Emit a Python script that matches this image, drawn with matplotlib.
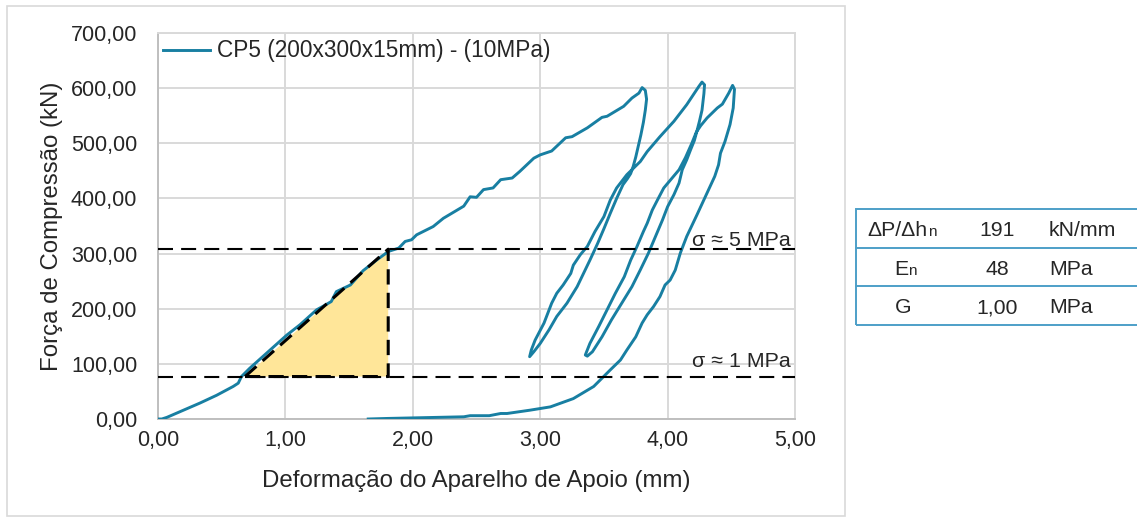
import matplotlib
matplotlib.use("Agg")
import matplotlib.pyplot as plt
from matplotlib.ticker import FuncFormatter, MultipleLocator
from matplotlib.patches import Rectangle, Polygon
from matplotlib.lines import Line2D

plt.rcParams['font.family'] = ['Liberation Sans', 'DejaVu Sans']

# ---- test record CP5: deformation (mm) vs compressive force (kN) ----
load_x = [0.00, 0.03, 0.07, 0.13, 0.20, 0.33, 0.46, 0.59, 0.63, 0.655, 0.72, 0.85, 0.98,
          1.01, 1.115, 1.245, 1.30, 1.36, 1.40, 1.51, 1.61, 1.72, 1.81, 1.89, 1.94, 1.99,
          2.03, 2.16, 2.24, 2.40, 2.45, 2.50, 2.555, 2.63, 2.69, 2.78, 2.84, 2.95, 3.00,
          3.09, 3.20, 3.25, 3.37, 3.485, 3.525, 3.655, 3.72, 3.775, 3.80, 3.825, 3.835]
load_y = [0, 0, 3, 9, 16, 29, 43, 59, 65, 77, 92, 119, 146,
          152, 171, 198, 205, 213, 231, 243, 269, 289, 304, 310, 322, 325,
          334, 349, 364, 386, 403, 402, 416, 419, 434, 437, 449, 473, 479,
          486, 510, 512, 528, 547, 549, 567, 582, 591, 601, 596, 580]

unload1_x = [3.835, 3.825, 3.81, 3.79, 3.77, 3.75, 3.73, 3.71, 3.685, 3.65, 3.60, 3.55,
             3.50, 3.45, 3.39, 3.34, 3.29, 3.21, 3.13, 3.07, 3.00, 2.95, 2.917]
unload1_y = [580, 560, 538, 515, 495, 475, 458, 445, 436, 425, 400, 373,
             345, 318, 288, 264, 240, 210, 186, 162, 137, 122, 113]

reload1_x = [2.917, 2.93, 2.96, 3.03, 3.09, 3.13, 3.18, 3.24, 3.26, 3.315, 3.37, 3.43,
             3.50, 3.55, 3.60, 3.64, 3.68, 3.72, 3.786, 3.84, 3.94, 4.05, 4.15, 4.245,
             4.27, 4.29]
reload1_y = [113, 125, 143, 174, 210, 228, 243, 264, 279, 298, 313, 340,
             367, 397, 419, 431, 443, 452, 467, 485, 512, 540, 570, 603,
             611, 606]

unload2_x = [4.29, 4.285, 4.27, 4.25, 4.23, 4.21, 4.18, 4.15, 4.115, 4.09, 4.05, 4.00,
             3.96, 3.905, 3.85, 3.785, 3.72, 3.64, 3.56, 3.485, 3.41, 3.37, 3.354]
unload2_y = [606, 590, 560, 540, 522, 505, 488, 470, 452, 428, 407, 385,
             361, 331, 301, 270, 240, 210, 180, 149, 122, 114, 116]

reload2_x = [3.354, 3.39, 3.46, 3.525, 3.59, 3.66, 3.71, 3.76, 3.81, 3.84, 3.88, 3.92,
             3.97, 4.035, 4.09, 4.14, 4.19, 4.225, 4.26, 4.31, 4.39, 4.43, 4.48, 4.51,
             4.525]
reload2_y = [116, 137, 168, 198, 228, 258, 288, 313, 340, 355, 379, 397,
             419, 437, 452, 474, 500, 520, 532, 546, 564, 571, 591, 605,
             598]

final_x = [4.525, 4.52, 4.515, 4.49, 4.45, 4.415, 4.40, 4.37, 4.33, 4.28, 4.23, 4.15,
           4.10, 4.06, 4.02, 3.98, 3.94, 3.89, 3.84, 3.80, 3.75, 3.68, 3.63, 3.55,
           3.42, 3.26, 3.08, 2.92, 2.74, 2.69, 2.60, 2.45, 2.40, 2.20, 2.03, 1.80, 1.65]
final_y = [598, 580, 564, 534, 503, 482, 461, 440, 420, 395, 370, 331,
           301, 270, 252, 243, 222, 204, 189, 174, 149, 125, 107, 89,
           59, 37, 22, 16, 10, 10, 6, 6, 4, 3, 2, 1, 0]

series_label = "CP5 (200x300x15mm) - (10MPa)"

# reference stress levels (kN) and the secant triangle between them
stress_levels = [77, 308]
stress_labels = ["σ ≈ 1 MPa", "σ ≈ 5 MPa"]
stress_label_y = [95, 314]
secant_x = [0.683, 1.807]

# summary table
table_names = ["ΔP/Δh", "E", "G"]
table_subs = ["n", "n", ""]
table_values = ["191", "48", "1,00"]
table_units = ["kN/mm", "MPa", "MPa"]

# ---------------------------------------------------------------------
W, H = 1137, 520
fig = plt.figure(figsize=(W / 100, H / 100), dpi=100)
fig.patch.set_facecolor("white")


def fx(px):
    return px / W


def fy(py):
    return 1 - py / H


text_color = "#262626"

# chart frame
fig.add_artist(Rectangle((fx(7), fy(516)), fx(845) - fx(7), fy(6) - fy(516),
                         transform=fig.transFigure, fill=False,
                         edgecolor="#d9d9d9", linewidth=1.2))

ax = fig.add_axes([fx(158), fy(419), (795 - 158) / W, (419 - 33) / H])
ax.set_xlim(0, 5)
ax.set_ylim(0, 700)
ax.xaxis.set_major_locator(MultipleLocator(1))
ax.yaxis.set_major_locator(MultipleLocator(100))
comma = FuncFormatter(lambda v, p: f"{v:.2f}".replace(".", ","))
ax.xaxis.set_major_formatter(comma)
ax.yaxis.set_major_formatter(comma)
ax.grid(True, color="#d9d9d9", linewidth=1.4)
ax.set_axisbelow(True)
for side in ("top", "right"):
    ax.spines[side].set_color("#d9d9d9")
    ax.spines[side].set_linewidth(1.4)
for side in ("left", "bottom"):
    ax.spines[side].set_color("#bfbfbf")
    ax.spines[side].set_linewidth(1.4)
ax.tick_params(length=0, labelsize=15.5, labelcolor=text_color)
ax.tick_params(axis="y", pad=15)
ax.tick_params(axis="x", pad=8)

ax.set_xlabel("Deformação do Aparelho de Apoio (mm)", fontsize=17.3, color=text_color)
ax.set_ylabel("Força de Compressão (kN)", fontsize=17.3, color=text_color)
ax.xaxis.label.set_va("center")
ax.yaxis.label.set_va("center")
ax.xaxis.set_label_coords(0.5, (419 - 481) / 386)
ax.yaxis.set_label_coords((52 - 158) / 637, 0.5)

# secant triangle between the two stress levels
lo, hi = stress_levels
tri = Polygon([(secant_x[0], lo), (secant_x[1], hi), (secant_x[1], lo)], closed=True,
              facecolor="#ffe699", edgecolor="none", zorder=2)
ax.add_patch(tri)

# test curve
curve_x = load_x + unload1_x + reload1_x + unload2_x + reload2_x + final_x
curve_y = load_y + unload1_y + reload1_y + unload2_y + reload2_y + final_y
ax.plot(curve_x, curve_y, color="#187fa2", linewidth=2.1, solid_joinstyle="round",
        label=series_label, zorder=3)

# stress level lines and labels
for lvl, txt, ty in zip(stress_levels, stress_labels, stress_label_y):
    ax.plot([0, 5], [lvl, lvl], color="black", linewidth=1.5, dashes=(7.2, 3.9),
            zorder=4, clip_on=False)
    ax.text(4.965, ty, txt, ha="right", va="baseline", fontsize=15.4,
            color=text_color, zorder=5)

ax.plot([secant_x[0], secant_x[1], secant_x[1], secant_x[0]], [lo, hi, lo, lo],
        color="black", linewidth=2.2, dashes=(5.0, 2.7), zorder=4)

leg = ax.legend(loc="center left", bbox_to_anchor=(0.0, (419 - 51) / 386),
                frameon=False, fontsize=16.3, handlelength=2.1, handletextpad=0.3,
                borderaxespad=0.0, borderpad=0.2)
for t in leg.get_texts():
    t.set_color(text_color)

# summary table on the right
tcolor = "#4d9fc8"
t_left, t_right = 856, 1140
row_edges = [209, 247.5, 286, 324.5]
fig.add_artist(Rectangle((fx(t_left), fy(row_edges[-1])), fx(t_right) - fx(t_left),
                         fy(row_edges[0]) - fy(row_edges[-1]), transform=fig.transFigure,
                         fill=False, edgecolor=tcolor, linewidth=1.4))
for ry in row_edges[1:-1]:
    fig.add_artist(Line2D([fx(t_left), fx(t_right)], [fy(ry), fy(ry)],
                          transform=fig.transFigure, color=tcolor, linewidth=1.4))

name_split = [928, 908, 903]
for i, (nm, sb, val, un) in enumerate(zip(table_names, table_subs, table_values, table_units)):
    base = (row_edges[i] + row_edges[i + 1]) / 2 + 8
    if sb:
        fig.text(fx(name_split[i]), fy(base), nm, ha="right", va="baseline",
                 fontsize=15.3, color=text_color)
        fig.text(fx(name_split[i]), fy(base), sb, ha="left", va="baseline",
                 fontsize=11, color=text_color)
    else:
        fig.text(fx(name_split[i]), fy(base), nm, ha="center", va="baseline",
                 fontsize=15.3, color=text_color)
    fig.text(fx(997.5), fy(base), val, ha="center", va="baseline",
             fontsize=15.3, color=text_color)
    fig.text(fx(1049), fy(base), un, ha="left", va="baseline",
             fontsize=15.3, color=text_color)

fig.savefig("out.png", dpi=100, facecolor="white")
